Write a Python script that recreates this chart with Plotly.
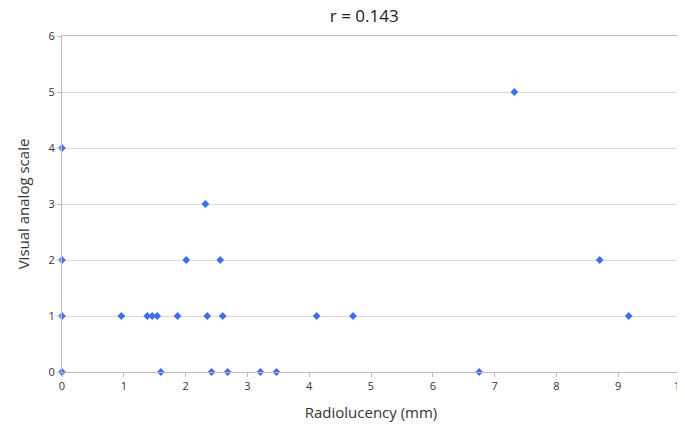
import plotly.graph_objects as go

radiolucency = [0, 0, 0, 0, 0.96, 1.38, 1.46, 1.54, 1.87, 1.6, 2.01, 2.32, 2.35, 2.42, 2.56, 2.6, 2.68, 3.21, 3.47, 4.12, 4.71, 6.75, 7.32, 8.7, 9.17]
vas = [4, 2, 1, 0, 1, 1, 1, 1, 1, 0, 2, 3, 1, 0, 2, 1, 0, 0, 0, 1, 1, 0, 5, 2, 1]

fig = go.Figure(go.Scatter(x=radiolucency, y=vas, mode="markers",
                           marker=dict(symbol="diamond", size=6, color="#3f6fe8"),
                           cliponaxis=False))
fig.update_layout(
    width=685, height=432, plot_bgcolor="white", paper_bgcolor="white",
    margin=dict(l=54, r=7, t=28, b=68),
    title=dict(text="r = 0.143", x=0.52, y=0.995, xanchor="center", yanchor="top",
               font=dict(family="Open Sans", size=17, color="#222")),
    font=dict(family="Open Sans", color="#333"),
    showlegend=False,
)
fig.update_xaxes(range=[0, 10], dtick=1, showgrid=False, showline=True, mirror=True,
                 linecolor="#bbb", ticks="outside", ticklen=4, tickcolor="#bbb",
                 zeroline=False, tickfont=dict(size=11, color="#333"),
                 title=dict(text="Radiolucency (mm)", font=dict(size=15, color="#333")))
fig.update_yaxes(range=[0, 6], dtick=1, showgrid=True, gridcolor="#d9d9d9", showline=True,
                 mirror=True, linecolor="#bbb", zeroline=False, ticks="outside", ticklen=4,
                 tickcolor="#bbb", tickfont=dict(size=11, color="#333"),
                 title=dict(text="Visual analog scale", font=dict(size=15, color="#333")))
fig.write_html("out.html")
